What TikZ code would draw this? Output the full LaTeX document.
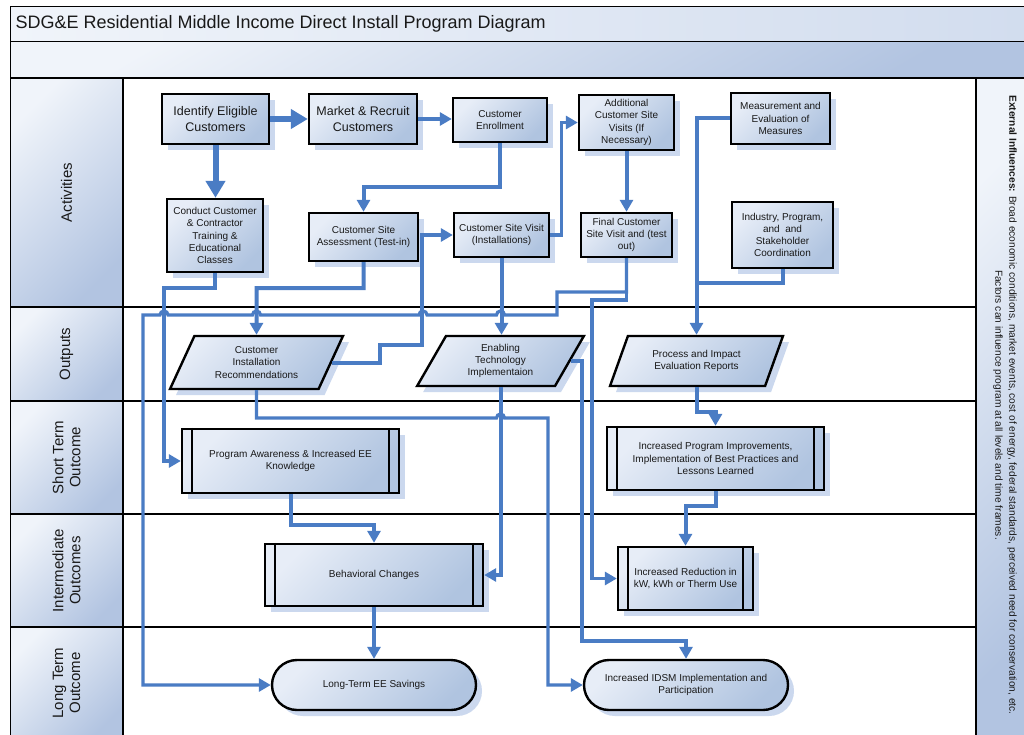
\documentclass[tikz,border=0pt]{standalone}
\usepackage{fontspec}
\setmainfont{Liberation Sans}
\usetikzlibrary{arrows.meta,shapes.geometric,shadows,calc}

\definecolor{flow}{RGB}{74,124,196}
\definecolor{boxlight}{RGB}{231,237,247}
\definecolor{boxdark}{RGB}{176,196,224}
\definecolor{shade}{RGB}{203,216,238}
\definecolor{panellight}{RGB}{240,244,250}
\definecolor{paneldark}{RGB}{178,196,225}
\definecolor{ink}{RGB}{25,25,25}

\tikzset{
  every node/.style={text=ink},
  lanetext/.style={font=\fontsize{15}{17}\selectfont, rotate=90, align=center},
  laneshade/.style={top color=panellight, bottom color=paneldark, shading angle=45},
  boxbase/.style={draw=black, line width=2.4pt, top color=boxlight, bottom color=boxdark,
     shading angle=45, inner sep=1pt, align=center,
     font=\fontsize{10}{12.2}\selectfont,
     drop shadow={shadow xshift=6pt, shadow yshift=-6pt, fill=shade, opacity=1}},
  actbox/.style={boxbase, rectangle},
  bigtext/.style={font=\fontsize{12.5}{15.5}\selectfont},
  outbox/.style={boxbase, trapezium, trapezium left angle=63.4,
     trapezium right angle=116.6, trapezium stretches=true},
  procbox/.style={boxbase, rectangle},
  endbox/.style={boxbase, rectangle, rounded corners=25pt},
  flowline/.style={draw=flow, line width=4pt},
  thinline/.style={draw=flow, line width=3.2pt},
  tip/.style={-{Triangle[length=12pt,width=13pt]}},
  bigarr/.style={draw=flow, line width=6pt, -{Triangle[length=17pt,width=19pt]}},
  hop/.style={radius=4}
}

\begin{document}
\begin{tikzpicture}[x=1pt,y=-1pt]
\clip (0,0) rectangle (1024,735);
\fill[white] (0,0) rectangle (1024,735);

% header bars
\shade[left color=panellight, right color=boxlight!60!paneldark] (10,7) rectangle (1030,42);
\shade[top color=panellight, bottom color=paneldark, shading angle=30] (10,42) rectangle (1030,78);
\node[anchor=west, font=\fontsize{18}{20}\selectfont] (title) at (12,24)
  {SDG\&E Residential Middle Income Direct Install Program Diagram};

% lane label cells and side panel
\shade[laneshade] (10,78) rectangle (123,307);
\shade[laneshade] (10,307) rectangle (123,401);
\shade[laneshade] (10,401) rectangle (123,514);
\shade[laneshade] (10,514) rectangle (123,627);
\shade[laneshade] (10,627) rectangle (123,740);
\shade[laneshade] (976,78) rectangle (1030,740);

% frame and lane separators
\draw[line width=1pt] (10,740) -- (10,7) -- (1030,7);
\draw[line width=1pt] (10,42) -- (1030,42);
\draw[line width=2.4pt] (10,78) -- (1030,78);
\foreach \yy in {307,401,514,627} \draw[line width=2.4pt] (10,\yy) -- (976,\yy);
\draw[line width=2.6pt] (123,78) -- (123,740);
\draw[line width=2.6pt] (976,78) -- (976,740);

% lane names
\node[lanetext] (lact) at (66.5,192.5) {Activities};
\node[lanetext] (lout) at (66.5,354) {Outputs};
\node[lanetext] (lst) at (66.5,457.5) {Short Term\\Outcome};
\node[lanetext] (lint) at (66.5,570.5) {Intermediate\\Outcomes};
\node[lanetext] (llt) at (66.5,683) {Long Term\\Outcome};

% external influences
\node[rotate=-90, align=center, font=\fontsize{10.2}{14}\selectfont] (ext) at (1005,405)
  {\textbf{External Influences:} Broad economic conditions, market events, cost of energy, federal standards, perceived need for conservation, etc.\\
   Factors can influence program at all levels and time frames.};

% activities
\node[actbox, bigtext, minimum width=107pt, minimum height=50pt] (ident) at (215.5,119) {Identify Eligible\\Customers};
\node[actbox, bigtext, minimum width=108pt, minimum height=50pt] (market) at (363,119) {Market \& Recruit\\Customers};
\node[actbox, minimum width=94pt, minimum height=44pt] (enrol) at (500,120) {Customer\\Enrollment};
\node[actbox, minimum width=96pt, minimum height=73pt] (conduct) at (215,235.5) {Conduct Customer\\\& Contractor\\Training \&\\Educational\\Classes};
\node[actbox, minimum width=109pt, minimum height=48pt] (assess) at (363.5,237) {Customer Site\\Assessment (Test-in)};
\node[actbox, minimum width=95pt, minimum height=44pt] (visit) at (501.5,235) {Customer Site Visit\\(Installations)};
\node[actbox, minimum width=95pt, minimum height=55pt] (addl) at (626.5,122.5) {Additional\\Customer Site\\Visits (If\\Necessary)};
\node[actbox, minimum width=91pt, minimum height=44pt] (final) at (626.5,235) {Final Customer\\Site Visit and (test\\out)};
\node[actbox, minimum width=99pt, minimum height=51pt] (meas) at (780.5,118.5) {Measurement and\\Evaluation of\\Measures};
\node[actbox, minimum width=101pt, minimum height=66pt] (indus) at (782.5,235) {Industry, Program,\\and\ \ and\\Stakeholder\\Coordination};

% outputs
\node[outbox, minimum width=173pt, minimum height=53pt] (cir) at (256.5,362.5) {Customer\\Installation\\Recommendations};
\node[outbox, minimum width=167pt, minimum height=50pt] (etech) at (500.5,361) {Enabling\\Technology\\Implementaion};
\node[outbox, minimum width=173pt, minimum height=50pt] (pier) at (696.5,361) {Process and Impact\\Evaluation Reports};

% short term and intermediate outcomes
\node[procbox, minimum width=217pt, minimum height=64pt] (aware) at (290.5,461) {Program Awareness \& Increased EE\\Knowledge};
\node[procbox, minimum width=217pt, minimum height=63pt] (improve) at (715.5,458.5) {Increased Program Improvements,\\Implementation of Best Practices and\\Lessons Learned};
\node[procbox, minimum width=218pt, minimum height=62pt] (behav) at (374,575) {Behavioral Changes};
\node[procbox, minimum width=135pt, minimum height=63pt] (reduce) at (685.5,578.5) {Increased Reduction in\\kW, kWh or Therm Use};
\foreach \n in {aware,improve,behav,reduce}{
  \draw[line width=2.4pt] ($(\n.north west)+(11,0)$) -- ($(\n.south west)+(11,0)$);
  \draw[line width=2.4pt] ($(\n.north east)+(-11,0)$) -- ($(\n.south east)+(-11,0)$);
}

% long term outcomes
\node[endbox, minimum width=204pt, minimum height=50pt] (ltsave) at (374,685) {Long-Term EE Savings};
\node[endbox, minimum width=204pt, minimum height=50pt] (idsm) at (686,685) {Increased IDSM Implementation and\\Participation};

% activity flow
\draw[bigarr] (ident.east) -- (market.west);
\draw[flowline, tip] (market.east) -- (market.east -| enrol.west);
\draw[bigarr] (ident.south) -- (ident.south |- conduct.north);
\draw[flowline, tip] (enrol.south) |- ($(assess.north)+(0,-25)$) -- (assess.north);
\draw[thinline, tip] (visit.east) -| ($(addl.west)+(-16,0)$) -- (addl.west);
\draw[flowline, tip] (addl.south) -- (final.north);

% into outputs
\draw[flowline, tip] (conduct.south) |- (164,288) |- (aware.west);
\draw[flowline, tip] (assess.south) |- (256.5,288) -- (cir.north);
\draw[flowline, tip] (cir.east) -| (380,345) -| ($(visit.west)+(-31,0)$) -- (visit.west);
\draw[flowline, tip] (visit.south) -- (visit.south |- etech.north);
\draw[flowline, tip] (meas.west) -| (pier.north);
\draw[flowline] (indus.south) |- (696.5,283);

% final visit to long term savings, hopping over crossings
\draw[thinline, tip] (final.south) |- (557,292) -- (557,315)
  -- (504.5,315) arc[start angle=0, end angle=-180, hop]
  -- (427,315) arc[start angle=0, end angle=-180, hop]
  -- (260.5,315) arc[start angle=0, end angle=-180, hop]
  -- (168,315) arc[start angle=0, end angle=-180, hop]
  -- (143,315) |- (ltsave.west);
\draw[thinline, tip] (final.south) |- (592,300) |- (reduce.west);

% outputs to outcomes
\draw[thinline, tip] (cir.south) |- (496.5,418) arc[start angle=180, end angle=360, hop]
  -- (548,418) |- (idsm.west);
\draw[thinline, tip] (etech.east) -| (582,641) -| (idsm.north);
\draw[flowline, tip] (etech.south) |- (behav.east);
\draw[flowline, tip] (aware.south) |- ($(behav.north)+(0,-18)$) -- (behav.north);
\draw[flowline, tip] (behav.south) -- (ltsave.north);
\draw[flowline, tip] (pier.south) |- ($(improve.north)+(0,-14)$) -- (improve.north);
\draw[flowline, tip] (improve.south) |- ($(reduce.north)+(0,-40)$) -- (reduce.north);
\end{tikzpicture}
\end{document}
